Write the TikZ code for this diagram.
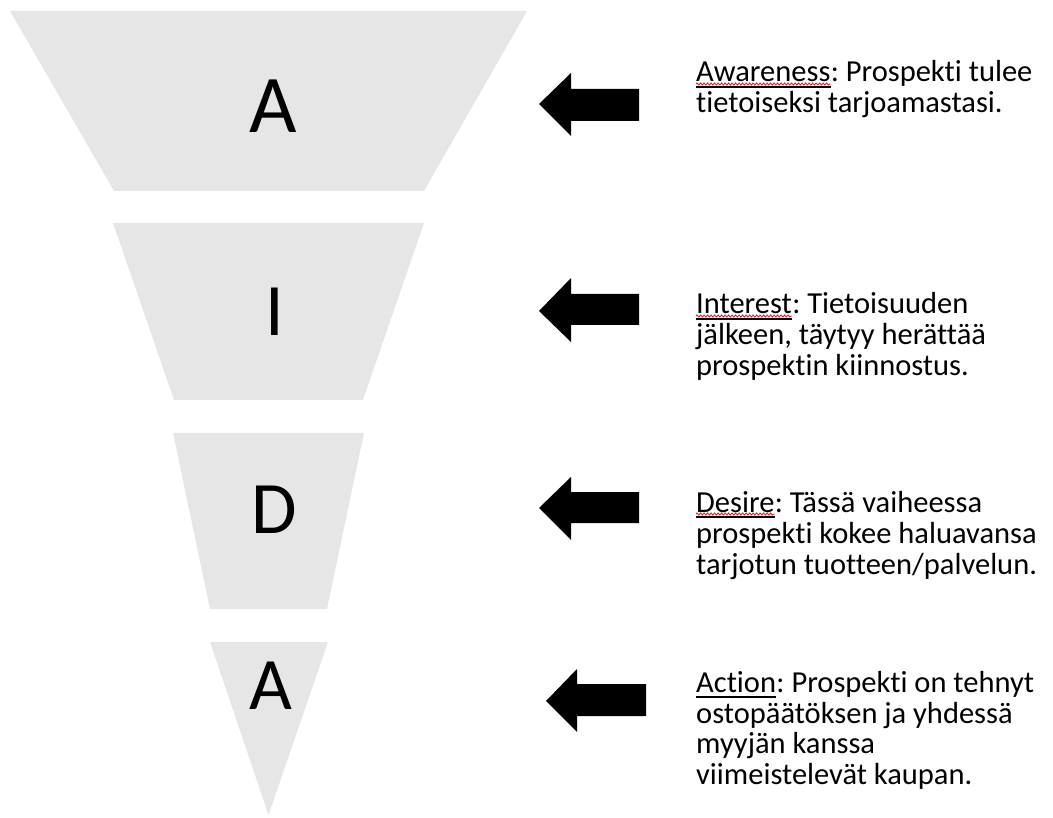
\documentclass[tikz,border=0pt]{standalone}
\usepackage{fontspec}
\setmainfont{Carlito}[Ligatures=NoCommon]
\frenchspacing
\usetikzlibrary{decorations.pathmorphing}
\definecolor{funnelgray}{RGB}{230,230,230}
\definecolor{spellred}{RGB}{225,30,30}
\tikzset{
  band/.style={fill=funnelgray, draw=none},
  bigletter/.style={font=\fontsize{74}{80}\selectfont, inner sep=0pt, anchor=base},
  blockarrow/.style={fill=black, draw=none},
  desc/.style={font=\fontsize{30.5}{33}\selectfont, inner sep=0pt, anchor=base west},
  kwline/.style={line width=1.8pt, black},
  squiggle/.style={draw=spellred, line width=0.9pt, decorate,
    decoration={snake, amplitude=1pt, segment length=3.5pt}}
}
\begin{document}
\begin{tikzpicture}[x=1pt,y=-1pt]
\useasboundingbox (0,0) rectangle (1053,818);
% funnel bands
\path[band] (10,11) -- (527,11) -- (424,191) -- (114,191) -- cycle;
\path[band] (113,223) -- (424,223) -- (363,400) -- (174,400) -- cycle;
\path[band] (173,433) -- (364,433) -- (327,609) -- (210,609) -- cycle;
\path[band] (210,642) -- (328,642) -- (268.5,815) -- cycle;
% letters
\node[bigletter, font=\fontsize{82}{88}\selectfont] (l1) at (273,133) {A};
\node[bigletter] (l2) at (275,336) {I};
\node[bigletter] (l3) at (274,533) {D};
\node[bigletter] (l4) at (271,709) {A};
% arrows
\path[blockarrow] (539,104) -- (571,73) -- (571,89) -- (639,89) -- (639,121) -- (571,121) -- (571,136) -- cycle;
\path[blockarrow] (539,311) -- (571,278) -- (571,294) -- (639,294) -- (639,325) -- (571,325) -- (571,342) -- cycle;
\path[blockarrow] (539,508) -- (571,477) -- (571,492) -- (639,492) -- (639,523) -- (571,523) -- (571,540) -- cycle;
\path[blockarrow] (546,701) -- (577,669) -- (577,684) -- (646,684) -- (646,716) -- (577,716) -- (577,732) -- cycle;
% Awareness
\node[desc] (k1) at (696,82) {Awareness};
\node[desc] (t1a) at (k1.base east) {: Prospekti tulee};
\node[desc] (t1b) at (696,113) {tietoiseksi tarjoamastasi.};
\draw[squiggle] ([yshift=-2pt]k1.base west) -- ([yshift=-2pt]k1.base east);
\draw[kwline] ([yshift=-5pt]k1.base west) -- ([yshift=-5pt]k1.base east);
% Interest
\node[desc] (k2) at (696,314) {Interest};
\node[desc] (t2a) at (k2.base east) {: Tietoisuuden};
\node[desc] (t2b) at (696,345) {jälkeen, täytyy herättää};
\node[desc] (t2c) at (696,376) {prospektin kiinnostus.};
\draw[squiggle] ([yshift=-2pt]k2.base west) -- ([yshift=-2pt]k2.base east);
\draw[kwline] ([yshift=-5pt]k2.base west) -- ([yshift=-5pt]k2.base east);
% Desire
\node[desc] (k3) at (696,512) {Desire};
\node[desc] (t3a) at (k3.base east) {: Tässä vaiheessa};
\node[desc] (t3b) at (696,543) {prospekti kokee haluavansa};
\node[desc] (t3c) at (696,574) {tarjotun tuotteen/palvelun.};
\draw[squiggle] ([yshift=-2pt]k3.base west) -- ([yshift=-2pt]k3.base east);
\draw[kwline] ([yshift=-5pt]k3.base west) -- ([yshift=-5pt]k3.base east);
% Action
\node[desc] (k4) at (696,692) {Action};
\node[desc] (t4a) at (k4.base east) {: Prospekti on tehnyt};
\node[desc] (t4b) at (696,723) {ostopäätöksen ja yhdessä};
\node[desc] (t4c) at (696,753) {myyjän kanssa};
\node[desc] (t4d) at (696,784) {viimeistelevät kaupan.};
\draw[kwline] ([yshift=-5pt]k4.base west) -- ([yshift=-5pt]k4.base east);
\end{tikzpicture}
\end{document}
